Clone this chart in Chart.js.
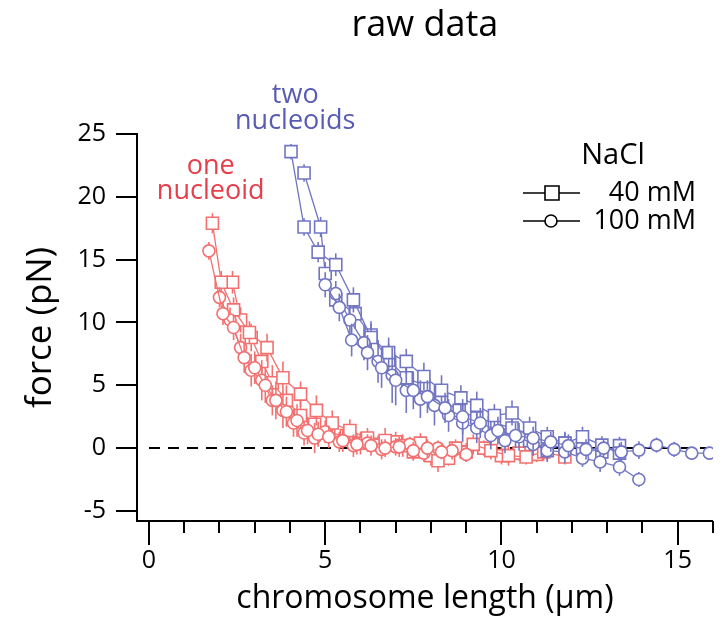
<!DOCTYPE html>
<html>
<head>
<meta charset="utf-8">
<script src="https://cdn.jsdelivr.net/npm/chart.js@4.4.1/dist/chart.umd.min.js"></script>
<style>
  html, body { margin: 0; padding: 0; background: #fff; }
</style>
</head>
<body>
<canvas id="chart" width="723" height="618"></canvas>
<script>
// one nucleoid, 40 mM (squares)
const oneSqAX = [1.8, 2.05, 2.4, 2.85, 3.35, 3.8, 4.3, 4.75, 5.2, 5.7, 6.2, 6.7, 7.2, 7.7, 8.2, 8.7, 9.2, 9.7, 10.2, 10.7, 11.2, 11.8];
const oneSqAY = [17.9, 13.2, 11.0, 9.2, 8.0, 5.6, 4.3, 3.0, 2.0, 1.4, 0.8, 0.6, 0.2, 0.4, -1.0, 0.0, 0.3, -0.2, -0.6, -0.7, -0.3, -0.7];
const oneSqAErr = [0.8, 0.9, 1.0, 0.9, 1.1, 1.3, 1.0, 1.2, 1.0, 0.9, 0.8, 1.0, 0.9, 0.8, 0.9, 0.7, 0.8, 0.7, 0.8, 0.6, 0.7, 0.6];

const oneSqBX = [2.37, 2.6, 2.9, 3.2, 3.5, 3.9, 4.3, 4.7, 5.1, 5.6, 6.0, 6.5, 7.0, 7.5, 8.0, 8.5, 9.0, 9.5, 10.0, 10.5, 11.0];
const oneSqBY = [13.2, 10.2, 8.8, 6.9, 5.2, 3.8, 2.6, 1.9, 1.2, 1.0, 0.4, 0.3, 0.5, -0.3, -0.6, -0.8, -0.3, 0.0, -0.6, -0.4, -0.5];
const oneSqBErr = [0.9, 1.0, 1.1, 1.2, 1.4, 1.2, 1.3, 1.0, 0.9, 0.8, 0.9, 0.7, 0.8, 0.7, 0.8, 0.6, 0.7, 0.6, 0.7, 0.6, 0.6];

// one nucleoid, 100 mM (circles)
const oneCiAX = [1.7, 2.1, 2.4, 2.7, 3.0, 3.3, 3.6, 3.9, 4.2, 4.5, 4.8, 5.1, 5.5, 5.9, 6.3, 6.7, 7.1, 7.5, 7.9, 8.3];
const oneCiAY = [15.7, 10.7, 9.6, 7.2, 6.4, 5.0, 3.8, 2.9, 2.2, 1.4, 1.1, 0.9, 0.6, 0.3, 0.2, 0.0, 0.1, -0.2, 0.0, -0.3];
const oneCiAErr = [0.7, 0.9, 1.0, 1.2, 1.3, 1.4, 1.5, 1.2, 1.3, 1.1, 1.0, 0.9, 0.9, 0.8, 0.8, 0.7, 0.8, 0.7, 0.7, 0.6];

const oneCiBX = [2.0, 2.3, 2.6, 2.9, 3.2, 3.5, 3.8, 4.1, 4.4, 4.7, 5.0, 5.4, 5.8, 6.2, 6.6, 7.0, 7.4, 7.8, 8.2, 8.6, 9.0];
const oneCiBY = [12.0, 10.2, 8.0, 6.2, 5.4, 3.8, 3.0, 2.0, 1.2, 0.8, 1.3, 0.5, 0.2, 0.4, -0.1, 0.1, 0.3, -0.4, 0.0, -0.2, -0.5];
const oneCiBErr = [0.8, 1.0, 1.1, 1.3, 1.6, 1.2, 1.4, 1.1, 1.0, 1.2, 0.9, 0.8, 0.9, 0.7, 0.8, 0.7, 0.6, 0.7, 0.6, 0.7, 0.6];

// two nucleoids, 40 mM (squares)
const twoSqAX = [4.03, 4.4, 4.8, 5.3, 5.8, 6.3, 6.8, 7.3, 7.8, 8.3, 8.85, 9.3, 9.8, 10.3, 10.8, 11.3, 11.8, 12.3, 12.85, 13.35];
const twoSqAY = [23.6, 17.6, 15.6, 14.6, 11.8, 8.8, 7.6, 6.9, 5.7, 4.6, 4.0, 3.4, 2.6, 2.8, 1.6, 0.9, 0.4, 0.9, 0.24, -0.4];
const twoSqAErr = [0.6, 0.7, 0.8, 0.9, 1.0, 1.1, 1.2, 1.0, 1.1, 1.2, 1.0, 1.1, 0.9, 1.0, 0.9, 0.8, 0.9, 0.8, 0.7, 0.8];

const twoSqBX = [4.4, 4.87, 5.0, 5.3, 5.85, 6.3, 6.8, 7.3, 7.8, 8.3, 8.8, 9.3, 9.8, 10.3, 10.8, 11.3, 11.8, 12.3, 12.85, 13.35];
const twoSqBY = [21.9, 17.6, 13.9, 11.8, 10.7, 9.0, 7.0, 5.6, 5.0, 3.8, 3.0, 2.4, 2.0, 1.6, 0.6, -0.2, 0.4, 0.0, -0.3, 0.2];
const twoSqBErr = [0.7, 0.8, 0.9, 1.0, 1.2, 1.1, 1.3, 1.2, 1.0, 1.1, 1.2, 1.0, 0.9, 1.0, 0.8, 0.9, 0.8, 0.7, 0.8, 0.7];

// two nucleoids, 100 mM (circles)
const twoCiAX = [5.0, 5.4, 5.75, 6.2, 6.6, 7.0, 7.5, 7.9, 8.4, 8.9, 9.4, 9.9, 10.4, 10.9, 11.4, 11.9, 12.4, 12.9, 13.4, 13.9, 14.4, 14.9, 15.4, 15.9];
const twoCiAY = [13.0, 11.2, 8.6, 7.6, 6.4, 5.4, 4.6, 4.1, 3.2, 2.5, 2.0, 1.4, 1.0, 0.8, 0.5, 0.2, -0.1, 0.0, -0.3, -0.16, 0.24, -0.1, -0.4, -0.4];
const twoCiAErr = [1.0, 1.1, 1.3, 1.4, 1.6, 2.0, 1.5, 1.3, 1.2, 1.4, 1.2, 1.1, 1.0, 0.9, 0.8, 0.9, 0.8, 0.7, 0.8, 0.7, 0.6, 0.6, 0.5, 0.5];

const twoCiBX = [5.3, 5.7, 6.1, 6.5, 6.9, 7.3, 7.7, 8.1, 8.5, 8.9, 9.3, 9.7, 10.1, 10.5, 10.9, 11.3, 11.8, 12.3, 12.8, 13.35, 13.9];
const twoCiBY = [12.3, 10.2, 8.4, 6.9, 5.8, 4.6, 3.9, 3.4, 2.6, 2.0, 1.6, 1.0, 0.6, 0.9, 0.3, -0.2, -0.3, -0.8, -1.1, -1.5, -2.5];
const twoCiBErr = [1.0, 1.2, 1.4, 1.7, 2.2, 1.8, 1.5, 1.6, 1.3, 1.5, 1.2, 1.1, 1.0, 1.1, 0.9, 0.8, 0.9, 0.7, 0.8, 0.7, 0.6];

const zeroLineX = [0, 16];
const xTickValues = [0, 5, 10, 15];
const xMinorTicks = [0, 1, 2, 3, 4, 5, 6, 7, 8, 9, 10, 11, 12, 13, 14, 15, 16];
const yTickValues = [-5, 0, 5, 10, 15, 20, 25];

const RED = "rgb(243, 112, 112)";
const BLUE = "rgb(114, 118, 194)";
const RED_TEXT = "rgb(230, 62, 74)";
const BLUE_TEXT = "rgb(88, 92, 180)";
const FONT = "'Open Sans', 'DejaVu Sans', sans-serif";

function serie(xs, ys, errs, color, shape) {
    return {
        data: xs.map((x, i) => ({ x: x, y: ys[i] })),
        errs: errs,
        showLine: true,
        borderColor: color,
        borderWidth: 1.3,
        backgroundColor: "#fff",
        pointStyle: shape,
        pointRadius: shape === "rect" ? 8.5 : 6,
        pointBorderWidth: 1.6,
        pointBackgroundColor: "#fff",
        pointBorderColor: color,
        tension: 0
    };
}

// error bars, drawn just before each dataset so markers cover them
const errorBars = {
    id: "errorBars",
    beforeDatasetDraw(chart, args) {
        const ds = chart.data.datasets[args.index];
        if (!ds.errs) return;
        const ctx = chart.ctx;
        const yScale = chart.scales.y;
        ctx.save();
        ctx.strokeStyle = ds.borderColor;
        ctx.lineWidth = 1.6;
        args.meta.data.forEach((pt, i) => {
            const v = ds.data[i].y;
            const e = ds.errs[i];
            ctx.beginPath();
            ctx.moveTo(pt.x, yScale.getPixelForValue(v + e));
            ctx.lineTo(pt.x, yScale.getPixelForValue(v - e));
            ctx.stroke();
        });
        ctx.restore();
    }
};

const extras = {
    id: "extras",
    afterDraw(chart) {
        const ctx = chart.ctx;
        const xs = chart.scales.x;
        const ys = chart.scales.y;
        ctx.save();

        // x tick marks (major + minor)
        ctx.strokeStyle = "#000";
        ctx.lineWidth = 2;
        const base = xs.top;
        xMinorTicks.forEach(v => {
            const px = Math.round(xs.getPixelForValue(v));
            const len = xTickValues.includes(v) ? 24 : 12;
            ctx.beginPath();
            ctx.moveTo(px, base);
            ctx.lineTo(px, base + len);
            ctx.stroke();
        });

        // annotations
        ctx.textAlign = "center";
        ctx.textBaseline = "middle";
        ctx.font = "27px " + FONT;
        ctx.fillStyle = RED_TEXT;
        ctx.fillText("one", xs.getPixelForValue(1.75), ys.getPixelForValue(22.4));
        ctx.fillText("nucleoid", xs.getPixelForValue(1.75), ys.getPixelForValue(20.4));
        ctx.fillStyle = BLUE_TEXT;
        ctx.fillText("two", xs.getPixelForValue(4.15), ys.getPixelForValue(28.1));
        ctx.fillText("nucleoids", xs.getPixelForValue(4.15), ys.getPixelForValue(26.0));

        // legend
        ctx.fillStyle = "#000";
        ctx.font = "29px " + FONT;
        ctx.fillText("NaCl", 613, 156);
        ctx.font = "27px " + FONT;
        ctx.textAlign = "right";
        ctx.fillText("40 mM", 696, 193);
        ctx.fillText("100 mM", 696, 221);
        ctx.lineWidth = 1.6;
        [193, 221].forEach((yy, k) => {
            ctx.beginPath();
            ctx.moveTo(523, yy);
            ctx.lineTo(580, yy);
            ctx.stroke();
            ctx.beginPath();
            if (k === 0) {
                ctx.rect(545, yy - 7, 14, 14);
            } else {
                ctx.arc(551, yy, 6, 0, Math.PI * 2);
            }
            ctx.fillStyle = "#fff";
            ctx.fill();
            ctx.stroke();
            ctx.fillStyle = "#000";
        });
        ctx.restore();
    }
};

new Chart(document.getElementById("chart"), {
    type: "scatter",
    data: {
        datasets: [
            serie(twoCiAX, twoCiAY, twoCiAErr, BLUE, "circle"),
            serie(twoCiBX, twoCiBY, twoCiBErr, BLUE, "circle"),
            serie(twoSqAX, twoSqAY, twoSqAErr, BLUE, "rect"),
            serie(twoSqBX, twoSqBY, twoSqBErr, BLUE, "rect"),
            serie(oneCiAX, oneCiAY, oneCiAErr, RED, "circle"),
            serie(oneCiBX, oneCiBY, oneCiBErr, RED, "circle"),
            serie(oneSqAX, oneSqAY, oneSqAErr, RED, "rect"),
            serie(oneSqBX, oneSqBY, oneSqBErr, RED, "rect"),
            {
                data: zeroLineX.map(x => ({ x: x, y: 0 })),
                showLine: true,
                borderColor: "#000",
                borderWidth: 2,
                borderDash: [11, 8],
                pointRadius: 0
            }
        ]
    },
    options: {
        responsive: false,
        animation: false,
        layout: { padding: { top: 0, right: 8, left: 0, bottom: 0 } },
        plugins: {
            legend: { display: false },
            tooltip: { enabled: false },
            title: {
                display: true,
                text: "raw data",
                fullSize: false,
                color: "#000",
                font: { family: FONT, size: 36, weight: "normal" },
                padding: { top: 4, bottom: 86.8 }
            }
        },
        scales: {
            x: {
                type: "linear",
                min: -0.34,
                max: 16,
                afterBuildTicks: s => { s.ticks = xTickValues.map(v => ({ value: v })); },
                afterFit: s => { s.height = 97; },
                grid: { display: false, drawTicks: false },
                border: { display: true, color: "#000", width: 2 },
                ticks: {
                    color: "#000",
                    padding: 25,
                    font: { family: FONT, size: 25 }
                },
                title: {
                    display: true,
                    text: "chromosome length (µm)",
                    color: "#000",
                    font: { family: FONT, size: 32 },
                    padding: { top: 0, bottom: 0 }
                }
            },
            y: {
                type: "linear",
                min: -5.8,
                max: 25,
                afterBuildTicks: s => { s.ticks = yTickValues.map(v => ({ value: v })); },
                afterFit: s => { s.width = 137; },
                grid: {
                    display: true,
                    drawOnChartArea: false,
                    drawTicks: true,
                    tickLength: 21,
                    color: "#000",
                    lineWidth: 2
                },
                border: { display: true, color: "#000", width: 2 },
                ticks: {
                    color: "#000",
                    padding: 10,
                    font: { family: FONT, size: 25 }
                },
                title: {
                    display: true,
                    text: "force (pN)",
                    color: "#000",
                    font: { family: FONT, size: 35 },
                    padding: { top: 20, bottom: 0 }
                }
            }
        }
    },
    plugins: [errorBars, extras]
});
</script>
</body>
</html>
